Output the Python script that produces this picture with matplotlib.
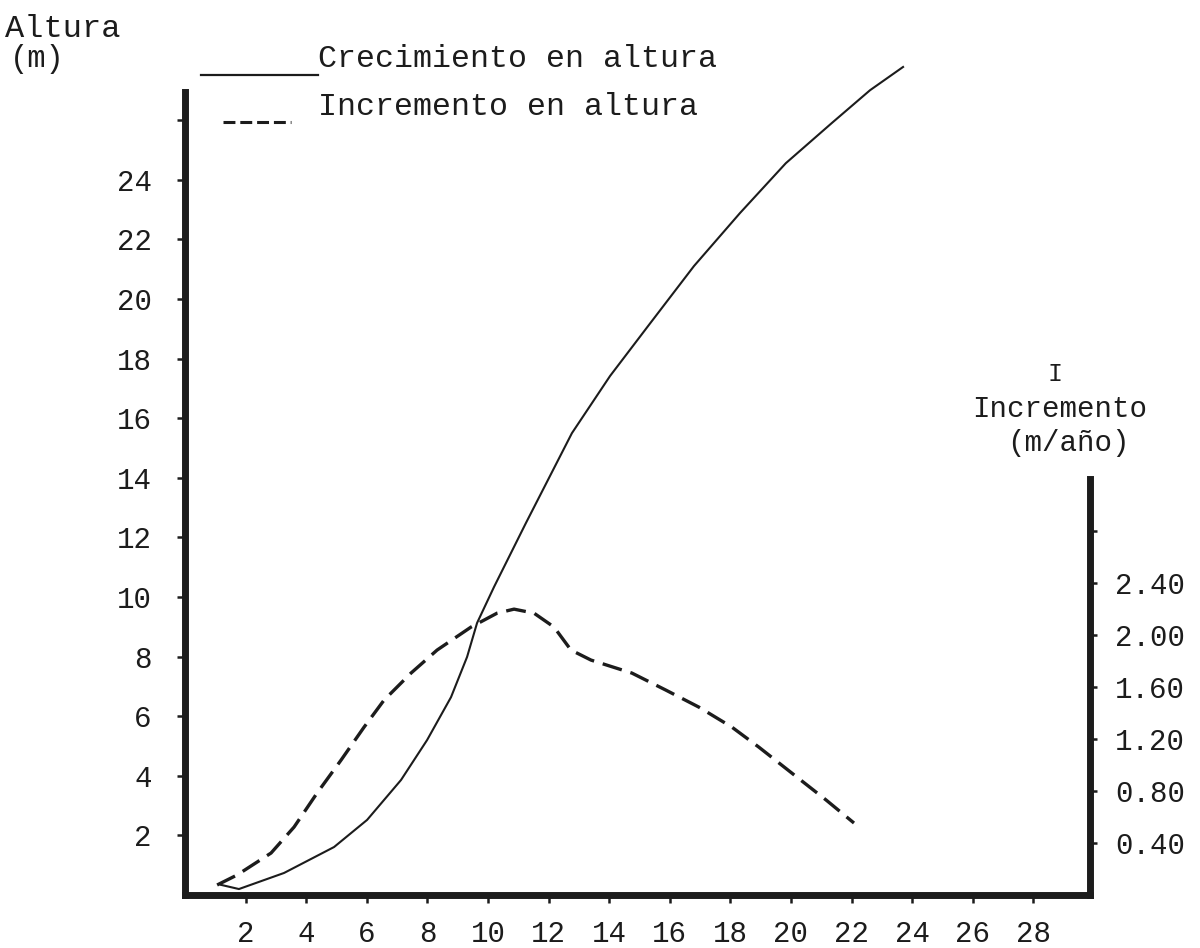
import matplotlib
matplotlib.use("Agg")
import matplotlib.pyplot as plt
from matplotlib.lines import Line2D

# Crecimiento en altura (m) segun la edad (anios)
edad_altura = [1.19, 1.78, 3.27, 4.92, 6.01, 7.13, 7.99, 8.78, 9.31, 9.64,
               10.20, 11.25, 12.77, 14.03, 15.28, 16.80, 18.32, 19.83,
               21.35, 22.61, 23.70]
altura_m = [0.34, 0.20, 0.74, 1.61, 2.52, 3.86, 5.20, 6.64, 7.99, 9.13,
            10.34, 12.48, 15.50, 17.42, 19.09, 21.11, 22.89, 24.56,
            25.91, 27.01, 27.79]

# Incremento en altura (m/anio)
edad_incr = [1.06, 1.72, 2.84, 3.60, 4.36, 5.15, 5.91, 6.57, 7.46, 8.32,
             9.44, 10.30, 10.86, 11.52, 12.18, 12.74, 13.40, 14.75, 15.87,
             16.96, 18.05, 18.94, 20.03, 21.16, 22.08]
incremento = [0.077, 0.154, 0.323, 0.523, 0.785, 1.038, 1.292, 1.500, 1.708,
              1.885, 2.062, 2.169, 2.200, 2.169, 2.062, 1.885, 1.808, 1.708,
              1.577, 1.446, 1.292, 1.138, 0.938, 0.731, 0.554]

edad_ticks = list(range(2, 29, 2))
altura_ticks = list(range(2, 27, 2))
altura_labels = [str(v) for v in range(2, 25, 2)] + ['']
incr_ticks = [0.4, 0.8, 1.2, 1.6, 2.0, 2.4, 2.8]
incr_labels = ['0.40', '0.80', '1.20', '1.60', '2.00', '2.40', '']

INK = '#1c1c1c'
W, H = 1200, 948


def fx(px):
    return px / W


def fy(py):
    return 1 - py / H


def main():
    plt.rcParams['font.family'] = ['Liberation Mono', 'DejaVu Sans Mono']

    fig = plt.figure(figsize=(W / 100, H / 100), dpi=100)
    ax = fig.add_axes([fx(185), 53 / H, 905 / W, 803 / H])
    ax2 = ax.twinx()

    #-- Curves
    ax.plot(edad_altura, altura_m, color=INK, lw=1.5, clip_on=False,
            solid_joinstyle='round')
    ax2.plot(edad_incr, incremento, color=INK, lw=2.4, dashes=(6.0, 2.7),
             dash_capstyle='butt')

    #-- Scales
    ax.set_xlim(0, 29.87)
    ax.set_ylim(0, 26.95)
    ax2.set_ylim(0, 6.18)

    ax.set_xticks(edad_ticks)
    ax.set_yticks(altura_ticks)
    ax.set_yticklabels(altura_labels)
    ax2.set_yticks(incr_ticks)
    ax2.set_yticklabels(incr_labels)

    # Typewriter-looking spines
    for name in ('top', 'right'):
        ax.spines[name].set_visible(False)
    for name in ('top', 'left', 'bottom'):
        ax2.spines[name].set_visible(False)
    for sp in (ax.spines['left'], ax.spines['bottom'], ax2.spines['right']):
        sp.set_linewidth(5)
        sp.set_color(INK)
    ax2.spines['right'].set_bounds(0, 3.2)

    ax.tick_params(axis='y', direction='out', length=6, width=1.8, pad=18,
                   labelsize=21, colors=INK)
    ax.tick_params(axis='x', direction='out', length=6, width=1.8, pad=12,
                   labelsize=21, colors=INK)
    ax2.tick_params(axis='y', direction='out', length=5, width=1.8, pad=13,
                    labelsize=21, colors=INK)

    #-- Axis titles
    fig.text(fx(5), fy(37), 'Altura', fontsize=23, color=INK, va='baseline')
    fig.text(fx(10), fy(67), '(m)', fontsize=22, color=INK, va='baseline')
    fig.text(fx(1055), fy(381), 'I', fontsize=18, color=INK, ha='center',
             va='baseline')
    fig.text(fx(1060), fy(417), 'Incremento', fontsize=21, color=INK,
             ha='center', va='baseline')
    fig.text(fx(1068), fy(451), '(m/año)', fontsize=21, color=INK,
             ha='center', va='baseline')

    #-- Hand made legend
    fig.add_artist(Line2D([fx(201), fx(318)], [fy(75), fy(75)], color=INK,
                          lw=1.6, transform=fig.transFigure))
    fig.text(fx(318), fy(67), 'Crecimiento en altura', fontsize=22.8,
             color=INK, va='baseline')
    fig.add_artist(Line2D([fx(223), fx(291)], [fy(122), fy(122)], color=INK,
                          lw=2.2, dashes=(3.9, 1.6), dash_capstyle='butt',
                          transform=fig.transFigure))
    fig.text(fx(318), fy(115), 'Incremento en altura', fontsize=22.8,
             color=INK, va='baseline')

    fig.savefig('out.png', dpi=100)


if __name__ == '__main__':
    main()
